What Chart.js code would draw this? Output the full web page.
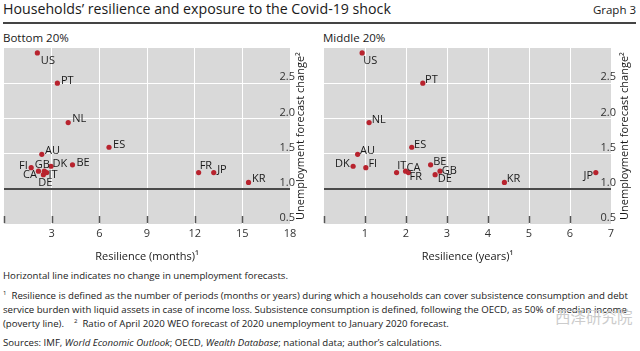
<!DOCTYPE html>
<html>
<head>
<meta charset="utf-8">
<script src="https://cdn.jsdelivr.net/npm/chart.js@4/dist/chart.umd.min.js"></script>
<style>
  body { margin: 0; width: 640px; height: 351px; background: #fff; font-family: 'Open Sans', sans-serif; color: #1a1a1a; position: relative; overflow: hidden; }
  .abs { position: absolute; white-space: nowrap; }
  #title { left: 3px; top: 0px; font-size: 14.2px; line-height: 17px; }
  #graph { right: 4px; top: 1px; font-size: 11.5px; line-height: 17px; }
  #rule { position: absolute; left: 3px; top: 22px; width: 633px; height: 2px; background: #444; }
  .panel { top: 30px; font-size: 11.5px; line-height: 16px; }
  .box { position: absolute; top: 40px; height: 228px; }
  .note { left: 3px; font-size: 9.65px; line-height: 13.8px; }
  sup { font-size: 6px; vertical-align: 4px; line-height: 0; }
  #wm { left: 555px; top: 306px; font-family: 'Noto Sans CJK SC', sans-serif; font-size: 15.5px; line-height: 20px; color: #cccccc; }
</style>
</head>
<body>
<div id="title" class="abs">Households’ resilience and exposure to the Covid-19 shock</div>
<div id="graph" class="abs">Graph 3</div>
<div id="rule"></div>
<div class="abs panel" style="left:3px">Bottom 20%</div>
<div class="abs panel" style="left:323px">Middle 20%</div>
<div class="box" style="left:0;width:312px"><canvas id="bottom"></canvas></div>
<div class="box" style="left:312px;width:328px"><canvas id="middle"></canvas></div>
<div class="abs note" style="top:269px">Horizontal line indicates no change in unemployment forecasts.</div>
<div class="abs note" style="top:289px"><sup>1</sup>&nbsp; Resilience is defined as the number of periods (months or years) during which a households can cover subsistence consumption and debt<br>service burden with liquid assets in case of income loss. Subsistence consumption is defined, following the OECD, as 50% of median income<br>(poverty line). &nbsp;&nbsp; <sup>2</sup>&nbsp; Ratio of April 2020 WEO forecast of 2020 unemployment to January 2020 forecast.</div>
<div class="abs note" style="top:336px">Sources: IMF, <i>World Economic Outlook</i>; OECD, <i>Wealth Database</i>; national data; author’s calculations.</div>
<div id="wm" class="abs">西泽研究院</div>
<script>
// Countries and their unemployment forecast change (same in both panels)
const countries = ["US", "PT", "NL", "ES", "AU", "FI", "GB", "CA", "IT", "DE", "DK", "BE", "FR", "JP", "KR"];
const unempChange = [2.93, 2.50, 1.94, 1.59, 1.49, 1.30, 1.25, 1.25, 1.23, 1.20, 1.32, 1.34, 1.23, 1.23, 1.09];
// Resilience, bottom 20% in months, middle 20% in years
const resilienceBottom = [2.1, 3.36, 4.04, 6.61, 2.38, 1.71, 2.54, 2.17, 2.69, 2.48, 2.96, 4.31, 12.25, 13.2, 15.39];
const resilienceMiddle = [0.93, 2.41, 1.10, 2.14, 0.82, 1.02, 2.83, 1.99, 1.77, 2.71, 0.71, 2.60, 2.06, 6.63, 4.40];

// label placement next to each dot: [dx, dy, align]
const labelPosBottom = {
  US: [3.5, 8, "left"], PT: [3.5, -2.5, "left"], NL: [4, -3.4, "left"], ES: [4, -2.7, "left"],
  AU: [3.3, -3.4, "left"], FI: [-3.3, -2, "right"], GB: [-2, -6, "center"], CA: [-1.5, 4, "right"],
  IT: [1.7, 2, "left"], DE: [2, 8, "center"], DK: [1.5, -2.5, "left"], BE: [4, -2.5, "left"],
  FR: [1, -6.7, "left"], JP: [3.4, -3, "left"], KR: [3.4, -3.3, "left"]
};
const labelPosMiddle = {
  US: [1, 8, "left"], PT: [2.3, -3.3, "left"], NL: [2.7, -3, "left"], ES: [2.3, -2.3, "left"],
  AU: [2.3, -3.4, "left"], DK: [-3.3, -2.7, "right"], FI: [2.6, -3.7, "left"], IT: [0.6, -6.3, "left"],
  CA: [1, -3.7, "left"], FR: [1, 4, "left"], BE: [2.6, -3.3, "left"], GB: [1.7, 0, "left"],
  DE: [2.7, 3.7, "left"], KR: [2.4, -3.3, "left"], JP: [-2.7, 3, "right"]
};

Chart.defaults.font.family = "'Open Sans', sans-serif";
Chart.defaults.color = "#333";

const plotBg = {
  id: "plotBg",
  beforeDraw(chart) {
    const { ctx, chartArea: a } = chart;
    ctx.save();
    ctx.fillStyle = "#d9d9d9";
    ctx.fillRect(a.left, a.top, a.right - a.left, a.bottom - a.top);
    ctx.restore();
  }
};

// short tick marks pointing up from the bottom edge
const tickMarks = {
  id: "tickMarks",
  beforeDatasetsDraw(chart) {
    const { ctx, chartArea: a, scales } = chart;
    ctx.save();
    ctx.strokeStyle = "#555";
    ctx.lineWidth = 1.5;
    scales.x.ticks.forEach((t) => {
      if (t.value >= scales.x.max) return;
      const x = Math.round(scales.x.getPixelForValue(t.value)) + 0.5;
      ctx.beginPath();
      ctx.moveTo(x, a.bottom - 8);
      ctx.lineTo(x, a.bottom - 1);
      ctx.stroke();
    });
    ctx.restore();
  }
};

const pointLabels = {
  id: "pointLabels",
  afterDatasetsDraw(chart, args, opts) {
    const { ctx } = chart;
    const meta = chart.getDatasetMeta(0);
    ctx.save();
    ctx.font = "11px 'Open Sans'";
    ctx.fillStyle = "#1a1a1a";
    ctx.textBaseline = "middle";
    meta.data.forEach((pt, i) => {
      const name = countries[i];
      const [dx, dy, align] = opts.pos[name];
      ctx.textAlign = align;
      ctx.fillText(name, pt.x + dx, pt.y + dy);
    });
    ctx.restore();
  }
};

const yTitle = {
  id: "yTitle",
  afterDraw(chart, args, opts) {
    const { ctx, chartArea: a } = chart;
    ctx.save();
    ctx.translate(a.right + opts.gap, (a.top + a.bottom) / 2);
    ctx.rotate(-Math.PI / 2);
    ctx.font = "11px 'Open Sans'";
    ctx.fillStyle = "#1a1a1a";
    ctx.textAlign = "center";
    ctx.textBaseline = "middle";
    ctx.fillText("Unemployment forecast change²", 0, 0);
    ctx.restore();
  }
};

function noPad(s) {
  s.paddingLeft = 0;
  s.paddingRight = 0;
  s.paddingTop = 0;
  s.paddingBottom = 0;
}

function makeChart(canvasId, xs, xMax, xStep, xTitle, pad, gap, pos) {
  const points = xs.map((x, i) => ({ x: x, y: unempChange[i] }));
  return new Chart(document.getElementById(canvasId), {
    type: "scatter",
    data: {
      datasets: [{
        data: points,
        backgroundColor: "#b8232e",
        borderColor: "#b8232e",
        pointRadius: 2.6,
        borderWidth: 0
      }]
    },
    plugins: [plotBg, tickMarks, pointLabels, yTitle],
    options: {
      responsive: true,
      maintainAspectRatio: false,
      animation: false,
      events: [],
      layout: { padding: pad },
      plugins: {
        legend: { display: false },
        tooltip: { enabled: false },
        pointLabels: { pos: pos },
        yTitle: { gap: gap }
      },
      scales: {
        x: {
          type: "linear",
          min: 0,
          max: xMax,
          afterFit: (s) => { s.height = 44; noPad(s); },
          border: { display: false },
          grid: {
            drawTicks: false,
            color: (c) => (c.tick && c.tick.value > 0 && c.tick.value < xMax ? "#ffffff" : "rgba(0,0,0,0)"),
            lineWidth: 1
          },
          ticks: {
            stepSize: xStep,
            padding: 3,
            font: { size: 11 },
            color: "#333",
            callback: (v) => (v === 0 ? "" : v)
          },
          title: {
            display: true,
            text: xTitle,
            font: { size: 11 },
            color: "#1a1a1a",
            padding: { top: 0, bottom: 5 }
          }
        },
        y: {
          type: "linear",
          position: "right",
          min: 0.5,
          max: 3.0,
          afterFit: (s) => { s.width = 0; noPad(s); },
          border: { display: false },
          grid: {
            drawTicks: false,
            color: (c) => {
              const v = c.tick ? c.tick.value : 0;
              if (Math.abs(v - 1) < 1e-6) return "#4a4a4a";
              return v > 0.5 && v < 3 ? "#ffffff" : "rgba(0,0,0,0)";
            },
            lineWidth: (c) => (c.tick && Math.abs(c.tick.value - 1) < 1e-6 ? 2 : 1)
          },
          ticks: {
            stepSize: 0.5,
            mirror: true,
            padding: 5,
            labelOffset: -6,
            font: { size: 11 },
            color: "#333",
            callback: (v) => (v >= 3 ? "" : v.toFixed(1))
          }
        }
      }
    }
  });
}

makeChart("bottom", resilienceBottom, 18, 3, "Resilience (months)¹", { left: 0, right: 22, top: 8, bottom: 0 }, 11, labelPosBottom);
makeChart("middle", resilienceMiddle, 7, 1, "Resilience (years)¹", { left: 12, right: 29, top: 8, bottom: 0 }, 14, labelPosMiddle);
</script>
</body>
</html>
